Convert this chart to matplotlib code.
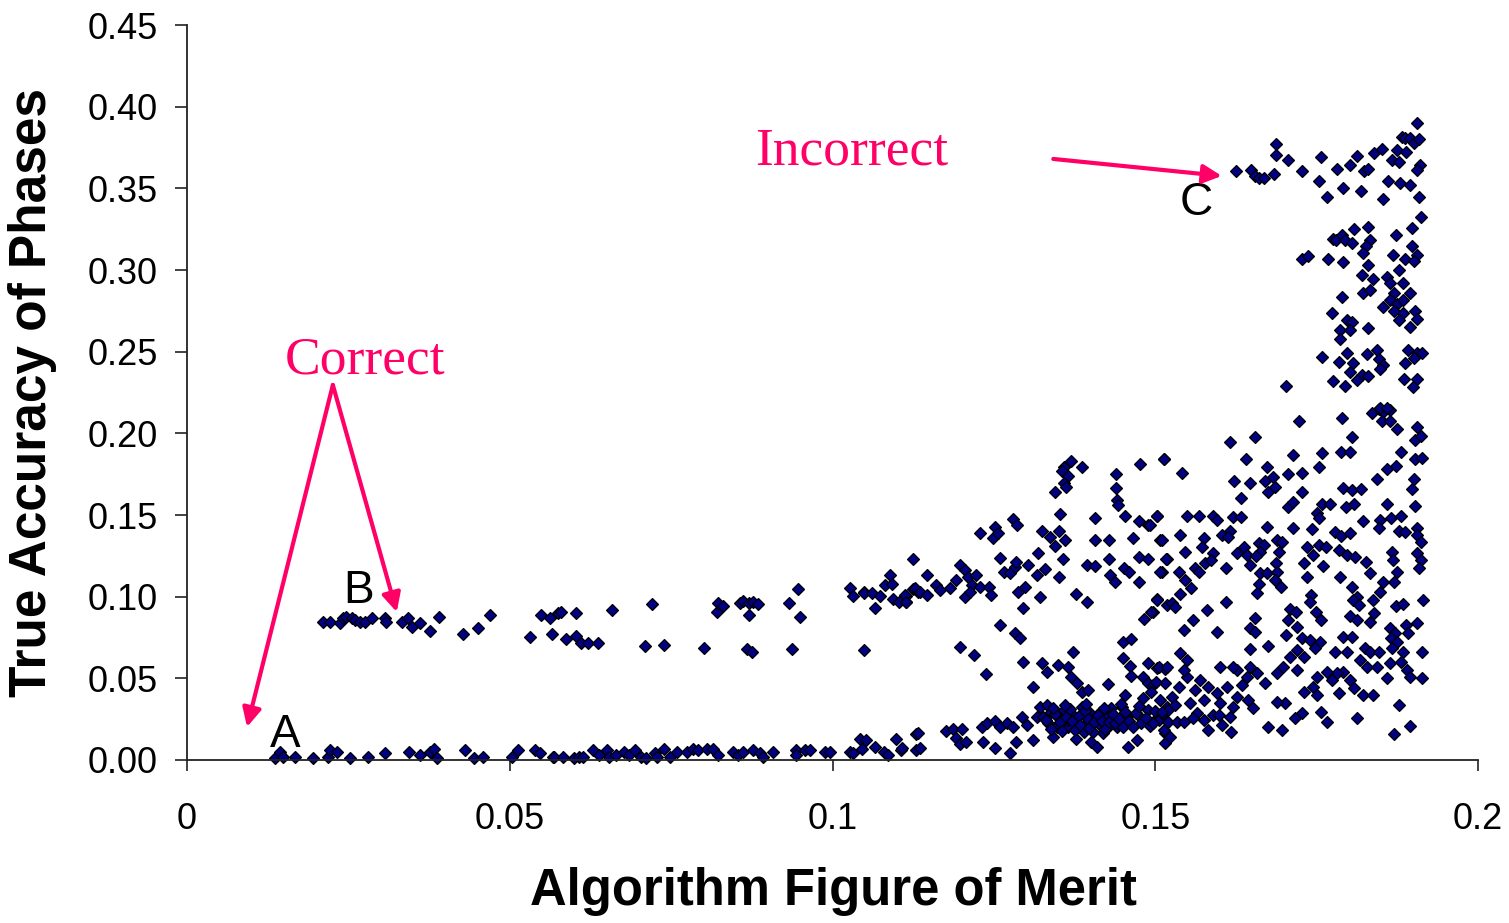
import matplotlib

matplotlib.use("Agg")
import matplotlib.pyplot as plt
import numpy as np

PINK = "#ff0066"
NAVY = "#000080"

# bottom band (group A side), read left to right
band_low = [
    (0.0136, 0.001), (0.0144, 0.005), (0.0149, 0.002), (0.0167, 0.002), (0.0196, 0.001),
    (0.0219, 0.002), (0.0222, 0.006), (0.0232, 0.005), (0.0253, 0.001), (0.0281, 0.002),
    (0.0307, 0.004), (0.0344, 0.005), (0.0361, 0.003), (0.0376, 0.005), (0.0382, 0.007),
    (0.0387, 0.001), (0.0431, 0.006), (0.0444, 0.001), (0.0459, 0.002), (0.0503, 0.002),
    (0.0513, 0.006), (0.0539, 0.006), (0.0547, 0.004), (0.0567, 0.002),
    (0.0568, 0.002), (0.0582, 0.002), (0.0600, 0.001), (0.0608, 0.002), (0.0614, 0.002),
    (0.0629, 0.006), (0.0639, 0.003), (0.0650, 0.006), (0.0654, 0.002), (0.0665, 0.003),
    (0.0677, 0.005), (0.0685, 0.003), (0.0694, 0.006), (0.0704, 0.002), (0.0711, 0.001),
    (0.0725, 0.004), (0.0728, 0.002), (0.0739, 0.007), (0.0748, 0.002), (0.0759, 0.005),
    (0.0774, 0.005), (0.0784, 0.007), (0.0791, 0.006), (0.0805, 0.007), (0.0815, 0.007),
    (0.0823, 0.003), (0.0846, 0.005), (0.0853, 0.003), (0.0861, 0.005), (0.0877, 0.006),
    (0.0888, 0.004), (0.0892, 0.002), (0.0908, 0.005), (0.0943, 0.006), (0.0944, 0.003),
    (0.0957, 0.006), (0.0965, 0.006), (0.0988, 0.005), (0.0996, 0.005), (0.1027, 0.005),
    (0.1032, 0.004), (0.1042, 0.013), (0.1045, 0.007), (0.1052, 0.012), (0.1066, 0.008),
    (0.1079, 0.005), (0.1086, 0.003), (0.1098, 0.013), (0.1106, 0.006), (0.1130, 0.016),
    (0.1130, 0.006),
]

# upper band (group B side)
band_high = [
    (0.0211, 0.0847), (0.0222, 0.0847), (0.0237, 0.0837), (0.0242, 0.0868), (0.0247, 0.0878),
    (0.0255, 0.0868), (0.0260, 0.0857), (0.0268, 0.0847), (0.0276, 0.0847), (0.0286, 0.0868),
    (0.0307, 0.0868), (0.0309, 0.0847), (0.0333, 0.0847), (0.0343, 0.0868), (0.0348, 0.0816),
    (0.0361, 0.0837), (0.0376, 0.0792), (0.0391, 0.0878), (0.0428, 0.0772), (0.0451, 0.0806),
    (0.0469, 0.0888), (0.0531, 0.0751), (0.0549, 0.0888), (0.0562, 0.0868), (0.0565, 0.0772),
    (0.0575, 0.0898), (0.0579, 0.0908), (0.0603, 0.0898), (0.0587, 0.0739), (0.0603, 0.0759),
    (0.0610, 0.0714), (0.0622, 0.0718), (0.0636, 0.0718), (0.0659, 0.0919), (0.0710, 0.0698),
    (0.0721, 0.0953), (0.0739, 0.0704), (0.0801, 0.0684), (0.0821, 0.0908), (0.0823, 0.0959),
    (0.0831, 0.0943), (0.0857, 0.0959), (0.0861, 0.0976), (0.0870, 0.0888), (0.0870, 0.0963),
    (0.0877, 0.0969), (0.0885, 0.0953), (0.0867, 0.0678), (0.0875, 0.0663), (0.0933, 0.0963),
    (0.0947, 0.1045), (0.0950, 0.0878), (0.0938, 0.0678), (0.1027, 0.1051), (0.1032, 0.1004),
    (0.1048, 0.1031), (0.1049, 0.1020), (0.1061, 0.1020), (0.1066, 0.0929), (0.1074, 0.1004),
    (0.1081, 0.1072), (0.1089, 0.1133), (0.1092, 0.1078), (0.1094, 0.0984), (0.1103, 0.0969),
    (0.1114, 0.1004), (0.1114, 0.0969), (0.1125, 0.1045), (0.1133, 0.1031), (0.1049, 0.0676),
]

# middle region 0.11 - 0.152
middle = [
    (0.1369, 0.1833), (0.1358, 0.1796), (0.1355, 0.1772), (0.1386, 0.1792), (0.1365, 0.1739),
    (0.1358, 0.1698), (0.1362, 0.1674), (0.1345, 0.1643), (0.1476, 0.1813), (0.1513, 0.1841),
    (0.1439, 0.1749), (0.1439, 0.1664), (0.1441, 0.1592), (0.1443, 0.1560), (0.1352, 0.1507),
    (0.1407, 0.1480), (0.1453, 0.1494), (0.1474, 0.1464), (0.1489, 0.1439), (0.1503, 0.1494),
    (0.1280, 0.1474), (0.1286, 0.1439), (0.1228, 0.1388), (0.1252, 0.1425), (0.1249, 0.1357),
    (0.1257, 0.1388), (0.1324, 0.1404), (0.1337, 0.1368), (0.1351, 0.1404), (0.1360, 0.1347),
    (0.1345, 0.1311), (0.1407, 0.1347), (0.1429, 0.1347), (0.1466, 0.1357), (0.1508, 0.1347),
    (0.1124, 0.1229), (0.1146, 0.1133), (0.1198, 0.1194), (0.1205, 0.1164), (0.1191, 0.1102),
    (0.1210, 0.1123), (0.1223, 0.1133), (0.1216, 0.1072), (0.1228, 0.1061), (0.1243, 0.1061),
    (0.1245, 0.1010), (0.1205, 0.1000), (0.1213, 0.1031), (0.1182, 0.1051), (0.1161, 0.1072),
    (0.1167, 0.1041), (0.1128, 0.1051), (0.1136, 0.1031), (0.1146, 0.1010), (0.1112, 0.1010),
    (0.1114, 0.0970), (0.1260, 0.1235), (0.1265, 0.1153), (0.1275, 0.1143), (0.1283, 0.1184),
    (0.1285, 0.1215), (0.1303, 0.1194), (0.1319, 0.1266), (0.1329, 0.1168), (0.1317, 0.1133),
    (0.1357, 0.1229), (0.1351, 0.1123), (0.1298, 0.1061), (0.1288, 0.1031), (0.1321, 0.0996),
    (0.1295, 0.0929), (0.1377, 0.1017), (0.1394, 0.0970), (0.1394, 0.1194), (0.1407, 0.1188),
    (0.1429, 0.1229), (0.1430, 0.1133), (0.1438, 0.1092), (0.1452, 0.1174), (0.1460, 0.1153),
    (0.1474, 0.1241), (0.1489, 0.1229), (0.1474, 0.1092), (0.1510, 0.1153), (0.1518, 0.1229),
    (0.1503, 0.0984), (0.1496, 0.0909), (0.1483, 0.0862), (0.1518, 0.0949),
    (0.1260, 0.0827), (0.1283, 0.0776), (0.1291, 0.0745), (0.1198, 0.0694), (0.1219, 0.0643),
    (0.1238, 0.0527), (0.1295, 0.0602), (0.1324, 0.0592), (0.1332, 0.0541), (0.1350, 0.0582),
    (0.1365, 0.0572), (0.1372, 0.0664), (0.1369, 0.0506), (0.1378, 0.0470), (0.1386, 0.0419),
    (0.1396, 0.0429), (0.1310, 0.0449), (0.1426, 0.0464), (0.1450, 0.0725), (0.1463, 0.0739),
    (0.1450, 0.0623), (0.1461, 0.0576), (0.1463, 0.0515), (0.1481, 0.0506), (0.1489, 0.0596),
    (0.1502, 0.0562), (0.1515, 0.0555), (0.1453, 0.0398), (0.1489, 0.0470), (0.1497, 0.0460),
]

# dense cluster just above the axis, 0.11 - 0.152
cluster = [
    (0.1133, 0.0164), (0.1136, 0.0072), (0.1107, 0.0072), (0.1176, 0.0180), (0.1187, 0.0188),
    (0.1200, 0.0188), (0.1191, 0.0133), (0.1198, 0.0098), (0.1207, 0.0113), (0.1231, 0.0200),
    (0.1240, 0.0229), (0.1252, 0.0241), (0.1260, 0.0200), (0.1270, 0.0229), (0.1279, 0.0200),
    (0.1233, 0.0113), (0.1252, 0.0072), (0.1275, 0.0045), (0.1285, 0.0113), (0.1293, 0.0266),
    (0.1301, 0.0215), (0.1311, 0.0123), (0.1316, 0.0266), (0.1321, 0.0327), (0.1332, 0.0337),
    (0.1334, 0.0225), (0.1342, 0.0143), (0.1350, 0.0266), (0.1358, 0.0306), (0.1365, 0.0204),
    (0.1373, 0.0276), (0.1377, 0.0127), (0.1386, 0.0327), (0.1394, 0.0225), (0.1399, 0.0286),
    (0.1401, 0.0113), (0.1409, 0.0082), (0.1414, 0.0215), (0.1419, 0.0164), (0.1425, 0.0266),
    (0.1432, 0.0317), (0.1440, 0.0204), (0.1448, 0.0327), (0.1456, 0.0266), (0.1458, 0.0082),
    (0.1471, 0.0123), (0.1476, 0.0266), (0.1481, 0.0378), (0.1489, 0.0306), (0.1497, 0.0235),
    (0.1507, 0.0266), (0.1515, 0.0164), (0.1518, 0.0327), (0.1515, 0.0102),
    (0.1326, 0.0266), (0.1339, 0.0296), (0.1347, 0.0204), (0.1363, 0.0245), (0.1378, 0.0225),
    (0.1389, 0.0174), (0.1407, 0.0256), (0.1414, 0.0296), (0.1427, 0.0204), (0.1404, 0.0174),
    (0.1330, 0.0245), (0.1338, 0.0190), (0.1344, 0.0280), (0.1352, 0.0230), (0.1356, 0.0175),
    (0.1361, 0.0265), (0.1368, 0.0310), (0.1371, 0.0240), (0.1375, 0.0185), (0.1382, 0.0270),
    (0.1384, 0.0215), (0.1391, 0.0300), (0.1396, 0.0250), (0.1398, 0.0195), (0.1405, 0.0230),
    (0.1411, 0.0275), (0.1417, 0.0240), (0.1422, 0.0190), (0.1429, 0.0235), (0.1435, 0.0280),
    (0.1437, 0.0225), (0.1444, 0.0250), (0.1450, 0.0205), (0.1453, 0.0295), (0.1460, 0.0240),
    (0.1466, 0.0200), (0.1470, 0.0285), (0.1478, 0.0225), (0.1485, 0.0260), (0.1492, 0.0210),
    (0.1500, 0.0300), (0.1505, 0.0245), (0.1512, 0.0280), (0.1520, 0.0230), (0.1342, 0.0320),
    (0.1360, 0.0335), (0.1393, 0.0340), (0.1420, 0.0320), (0.1447, 0.0345), (0.1474, 0.0330),
]

# right block 0.149 - 0.192, below 0.22
right_low = [
    (0.1722, 0.2078), (0.1789, 0.2092), (0.1835, 0.2123), (0.1846, 0.2147), (0.1853, 0.2133),
    (0.1864, 0.2143), (0.1851, 0.2078), (0.1864, 0.2078), (0.1875, 0.2025), (0.1905, 0.2041),
    (0.1902, 0.1960), (0.1911, 0.1984), (0.1804, 0.1976), (0.1616, 0.1949), (0.1655, 0.1976),
    (0.1514, 0.1841), (0.1541, 0.1760), (0.1641, 0.1841), (0.1714, 0.1868), (0.1759, 0.1878),
    (0.1787, 0.1888), (0.1801, 0.1888), (0.1753, 0.1792), (0.1673, 0.1792), (0.1682, 0.1731),
    (0.1705, 0.1751), (0.1727, 0.1760), (0.1880, 0.1888), (0.1902, 0.1841), (0.1913, 0.1847),
    (0.1859, 0.1780), (0.1873, 0.1800), (0.1843, 0.1719), (0.1900, 0.1719), (0.1897, 0.1657),
    (0.1622, 0.1711), (0.1646, 0.1698), (0.1670, 0.1711), (0.1675, 0.1643), (0.1686, 0.1670),
    (0.1727, 0.1643), (0.1632, 0.1602), (0.1706, 0.1547), (0.1714, 0.1582), (0.1750, 0.1510),
    (0.1758, 0.1568), (0.1771, 0.1568), (0.1753, 0.1480), (0.1791, 0.1664), (0.1804, 0.1653),
    (0.1818, 0.1657), (0.1796, 0.1547), (0.1808, 0.1568), (0.1859, 0.1568), (0.1902, 0.1555),
    (0.1822, 0.1466), (0.1848, 0.1470), (0.1865, 0.1480), (0.1880, 0.1494), (0.1847, 0.1419),
    (0.1877, 0.1404), (0.1887, 0.1398), (0.1905, 0.1419), (0.1502, 0.1494), (0.1549, 0.1494),
    (0.1568, 0.1494), (0.1589, 0.1494), (0.1595, 0.1470), (0.1621, 0.1486), (0.1632, 0.1486),
    (0.1673, 0.1425), (0.1714, 0.1419), (0.1742, 0.1413), (0.1779, 0.1398), (0.1787, 0.1372),
    (0.1802, 0.1388), (0.1492, 0.1439), (0.1510, 0.1347), (0.1538, 0.1378), (0.1575, 0.1358),
    (0.1572, 0.1306), (0.1604, 0.1378), (0.1616, 0.1405), (0.1612, 0.1368), (0.1546, 0.1276),
    (0.1517, 0.1229), (0.1590, 0.1266), (0.1637, 0.1306), (0.1627, 0.1266), (0.1642, 0.1255),
    (0.1660, 0.1327), (0.1668, 0.1317), (0.1688, 0.1347), (0.1696, 0.1337), (0.1662, 0.1276),
    (0.1647, 0.1194), (0.1656, 0.1249), (0.1692, 0.1276), (0.1687, 0.1209), (0.1735, 0.1306),
    (0.1753, 0.1317), (0.1765, 0.1306), (0.1745, 0.1255), (0.1730, 0.1209), (0.1760, 0.1188),
    (0.1784, 0.1286), (0.1797, 0.1255), (0.1810, 0.1245), (0.1826, 0.1215), (0.1786, 0.1123),
    (0.1833, 0.1143), (0.1866, 0.1276), (0.1869, 0.1225), (0.1905, 0.1378), (0.1911, 0.1337),
    (0.1905, 0.1266), (0.1911, 0.1225), (0.1909, 0.1174), (0.1874, 0.1153), (0.1870, 0.1092),
    (0.1853, 0.1092), (0.1735, 0.1123), (0.1610, 0.1174), (0.1508, 0.1153), (0.1537, 0.1153),
    (0.1546, 0.1102), (0.1556, 0.1051), (0.1562, 0.1174), (0.1577, 0.1204), (0.1568, 0.1153),
    (0.1587, 0.1225), (0.1662, 0.1143), (0.1673, 0.1143), (0.1688, 0.1153), (0.1686, 0.1102),
    (0.1694, 0.1062), (0.1660, 0.1078), (0.1658, 0.1025), (0.1804, 0.1062), (0.1848, 0.1031),
    (0.1838, 0.0980), (0.1812, 0.1000), (0.1806, 0.0980), (0.1816, 0.0949), (0.1873, 0.0943),
    (0.1883, 0.0955), (0.1914, 0.0980), (0.1839, 0.0902), (0.1833, 0.0847), (0.1801, 0.0882),
    (0.1812, 0.0857), (0.1741, 0.1011), (0.1739, 0.0970), (0.1502, 0.0980), (0.1526, 0.0959),
    (0.1531, 0.0939), (0.1538, 0.1017), (0.1494, 0.0908), (0.1580, 0.0919), (0.1610, 0.0970),
    (0.1544, 0.0796), (0.1558, 0.0857), (0.1595, 0.0786), (0.1655, 0.0868), (0.1647, 0.0806),
    (0.1655, 0.0786), (0.1709, 0.0923), (0.1718, 0.0908), (0.1749, 0.0908), (0.1756, 0.0857),
    (0.1706, 0.0857), (0.1719, 0.0817), (0.1703, 0.0766), (0.1727, 0.0745), (0.1739, 0.0735),
    (0.1755, 0.0725), (0.1748, 0.0684), (0.1719, 0.0674), (0.1730, 0.0633), (0.1709, 0.0633),
    (0.1698, 0.0572), (0.1674, 0.0698), (0.1647, 0.0678), (0.1791, 0.0751), (0.1804, 0.0751),
    (0.1779, 0.0664), (0.1797, 0.0664), (0.1825, 0.0684), (0.1833, 0.0664), (0.1846, 0.0664),
    (0.1864, 0.0806), (0.1872, 0.0776), (0.1865, 0.0745), (0.1874, 0.0725), (0.1889, 0.0827),
    (0.1905, 0.0841), (0.1892, 0.0776), (0.1866, 0.0684), (0.1884, 0.0664), (0.1913, 0.0664),
    (0.1828, 0.0572), (0.1843, 0.0572), (0.1864, 0.0592), (0.1880, 0.0602), (0.1890, 0.0551),
    (0.1895, 0.0510), (0.1913, 0.0500), (0.1859, 0.0500), (0.1817, 0.0612), (0.1791, 0.0541),
    (0.1781, 0.0531), (0.1766, 0.0541), (0.1773, 0.0490), (0.1802, 0.0490), (0.1808, 0.0439),
    (0.1822, 0.0398), (0.1837, 0.0398), (0.1784, 0.0408), (0.1750, 0.0510), (0.1744, 0.0449),
    (0.1730, 0.0419), (0.1750, 0.0398), (0.1688, 0.0531), (0.1719, 0.0551), (0.1756, 0.0296),
    (0.1766, 0.0235), (0.1813, 0.0255), (0.1877, 0.0337), (0.1895, 0.0208), (0.1870, 0.0159),
    (0.1697, 0.0184), (0.1675, 0.0204), (0.1727, 0.0286), (0.1717, 0.0255), (0.1701, 0.0347),
    (0.1688, 0.0357), (0.1670, 0.0470), (0.1647, 0.0572), (0.1657, 0.0531), (0.1642, 0.0510),
    (0.1627, 0.0551), (0.1621, 0.0572), (0.1600, 0.0572), (0.1595, 0.0408), (0.1611, 0.0449),
    (0.1634, 0.0459), (0.1627, 0.0388), (0.1643, 0.0368), (0.1651, 0.0317), (0.1621, 0.0327),
    (0.1616, 0.0266), (0.1600, 0.0347), (0.1590, 0.0276), (0.1575, 0.0245), (0.1564, 0.0286),
    (0.1554, 0.0347), (0.1562, 0.0429), (0.1575, 0.0368), (0.1582, 0.0449), (0.1569, 0.0490),
    (0.1549, 0.0510), (0.1537, 0.0445), (0.1526, 0.0388), (0.1515, 0.0470), (0.1505, 0.0572),
    (0.1518, 0.0572), (0.1538, 0.0653), (0.1549, 0.0612), (0.1544, 0.0551), (0.1501, 0.0480),
    (0.1494, 0.0419), (0.1507, 0.0368), (0.1520, 0.0306), (0.1531, 0.0337), (0.1513, 0.0184),
    (0.1523, 0.0139), (0.1497, 0.0225), (0.1533, 0.0235), (0.1544, 0.0235), (0.1559, 0.0255),
    (0.1582, 0.0184), (0.1603, 0.0215), (0.1618, 0.0174), (0.1598, 0.0276), (0.1510, 0.0296),
]

# upper right block, group C and above 0.22
right_high = [
    (0.1625, 0.3609), (0.1648, 0.3613), (0.1655, 0.3576), (0.1660, 0.3562), (0.1668, 0.3562),
    (0.1684, 0.3589), (0.1687, 0.3772), (0.1687, 0.3705), (0.1706, 0.3674), (0.1727, 0.3609),
    (0.1756, 0.3691), (0.1754, 0.3548), (0.1766, 0.3450), (0.1781, 0.3617), (0.1791, 0.3501),
    (0.1802, 0.3644), (0.1813, 0.3695), (0.1818, 0.3486), (0.1823, 0.3609), (0.1830, 0.3617),
    (0.1839, 0.3719), (0.1851, 0.3740), (0.1853, 0.3433), (0.1861, 0.3548), (0.1874, 0.3735),
    (0.1889, 0.3725), (0.1866, 0.3674), (0.1877, 0.3664), (0.1882, 0.3817), (0.1887, 0.3807),
    (0.1894, 0.3807), (0.1900, 0.3776), (0.1908, 0.3801), (0.1905, 0.3903), (0.1879, 0.3535),
    (0.1894, 0.3521), (0.1910, 0.3644), (0.1905, 0.3613), (0.1908, 0.3450), (0.1911, 0.3323),
    (0.1808, 0.3250), (0.1830, 0.3262), (0.1775, 0.3188), (0.1780, 0.3184), (0.1790, 0.3215),
    (0.1794, 0.3184), (0.1804, 0.3168), (0.1833, 0.3184), (0.1827, 0.3144), (0.1821, 0.3107),
    (0.1728, 0.3066), (0.1737, 0.3086), (0.1768, 0.3066), (0.1791, 0.3046), (0.1829, 0.3031),
    (0.1873, 0.3215), (0.1897, 0.3256), (0.1897, 0.3144), (0.1905, 0.3093), (0.1868, 0.3093),
    (0.1887, 0.3066), (0.1900, 0.3058), (0.1878, 0.3001), (0.1820, 0.2970), (0.1838, 0.2944),
    (0.1859, 0.2960), (0.1864, 0.2923), (0.1884, 0.2919), (0.1895, 0.2858), (0.1870, 0.2862),
    (0.1822, 0.2862), (0.1833, 0.2878), (0.1790, 0.2833), (0.1853, 0.2776), (0.1864, 0.2817),
    (0.1874, 0.2792), (0.1883, 0.2817), (0.1870, 0.2746), (0.1884, 0.2735), (0.1902, 0.2746),
    (0.1877, 0.2694), (0.1894, 0.2650), (0.1905, 0.2699), (0.1773, 0.2739), (0.1797, 0.2694),
    (0.1804, 0.2684), (0.1786, 0.2633), (0.1801, 0.2633), (0.1830, 0.2643), (0.1786, 0.2576),
    (0.1759, 0.2470), (0.1784, 0.2439), (0.1797, 0.2494), (0.1807, 0.2429), (0.1828, 0.2486),
    (0.1843, 0.2511), (0.1846, 0.2454), (0.1853, 0.2419), (0.1848, 0.2392), (0.1802, 0.2378),
    (0.1820, 0.2358), (0.1830, 0.2348), (0.1812, 0.2327), (0.1775, 0.2323), (0.1794, 0.2290),
    (0.1891, 0.2511), (0.1905, 0.2490), (0.1887, 0.2429), (0.1900, 0.2460), (0.1913, 0.2490),
    (0.1885, 0.2331), (0.1905, 0.2331), (0.1899, 0.2282), (0.1702, 0.2290), (0.1848, 0.2154),
    (0.1859, 0.2154),
]

groups = [band_low, band_high, middle, cluster, right_low, right_high]
pts = np.array([p for g in groups for p in g])

fig = plt.figure(figsize=(15.09, 9.23), dpi=100, facecolor="white")
ax = fig.add_axes([0.1239, 0.1766, 0.8556, 0.7963])

ax.plot(pts[:, 0], pts[:, 1], linestyle="none", marker="D", markersize=6.4,
        markerfacecolor=NAVY, markeredgecolor="black", markeredgewidth=0.9, clip_on=False)

ax.set_xlim(0, 0.2)
ax.set_ylim(0, 0.45)
ax.set_xticks([0, 0.05, 0.1, 0.15, 0.2])
ax.set_xticklabels(["0", "0.05", "0.1", "0.15", "0.2"])
ax.set_yticks(np.arange(0, 0.451, 0.05))
ax.set_yticklabels([f"{v:.2f}" for v in np.arange(0, 0.451, 0.05)])

for side in ("top", "right"):
    ax.spines[side].set_visible(False)
for side in ("left", "bottom"):
    ax.spines[side].set_color("#222222")
    ax.spines[side].set_linewidth(1.3)

ax.tick_params(axis="y", direction="out", length=9, width=1.2, pad=12,
               labelsize=26, colors="#222222", labelcolor="black")
ax.tick_params(axis="x", direction="out", length=8, width=1.2, pad=22,
               labelsize=26, colors="#222222", labelcolor="black")
for lab in ax.get_xticklabels() + ax.get_yticklabels():
    lab.set_fontfamily("Liberation Sans")

ax.set_xlabel("Algorithm Figure of Merit", fontsize=36.5, fontweight="bold",
              family="Liberation Sans")
ax.xaxis.set_label_coords(0.501, -0.146)
ax.set_ylabel("True Accuracy of Phases", fontsize=37, fontweight="bold",
              family="Liberation Sans")
ax.yaxis.set_label_coords(-0.101, 0.5)

# annotations
serif = dict(family="Liberation Serif", fontsize=38.5, color=PINK)
ax.text(0.0880, 0.3644, "Incorrect", va="baseline", ha="left", **serif)
ax.text(0.0152, 0.2364, "Correct", va="baseline", ha="left", **serif)

letters = dict(family="Liberation Sans", fontsize=33, color="black")
ax.text(0.0129, 0.0080, "A", va="baseline", ha="left", **letters)
ax.text(0.0242, 0.0961, "B", va="baseline", ha="left", **letters)
ax.text(0.1538, 0.3337, "C", va="baseline", ha="left", **letters)

arrow = dict(arrowstyle="-|>", color=PINK, lw=3, mutation_scale=28,
             shrinkA=0, shrinkB=0)
ax.annotate("", xy=(0.1603, 0.3576), xytext=(0.1342, 0.3680), arrowprops=arrow)
ax.annotate("", xy=(0.0093, 0.0202), xytext=(0.0226, 0.2296), arrowprops=arrow)
ax.annotate("", xy=(0.0325, 0.0906), xytext=(0.0226, 0.2296), arrowprops=arrow)

fig.savefig("out.png", dpi=100, facecolor="white")
